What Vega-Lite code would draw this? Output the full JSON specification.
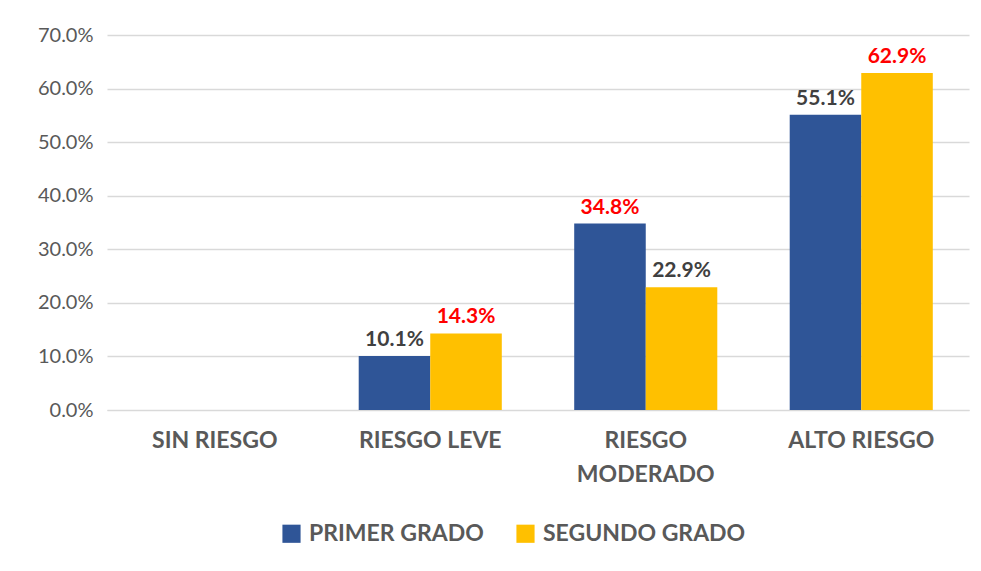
{
  "$schema": "https://vega.github.io/schema/vega-lite/v6.json",
  "width": 862,
  "height": 375,
  "autosize": {"type": "none"},
  "padding": {"left": 107, "top": 35, "right": 12, "bottom": 161},
  "background": "white",
  "data": {
    "values": [
      {"categoria": "SIN RIESGO", "grado": "PRIMER GRADO", "valor": 0},
      {"categoria": "SIN RIESGO", "grado": "SEGUNDO GRADO", "valor": 0},
      {"categoria": "RIESGO LEVE", "grado": "PRIMER GRADO", "valor": 0.101},
      {"categoria": "RIESGO LEVE", "grado": "SEGUNDO GRADO", "valor": 0.143},
      {"categoria": "RIESGO MODERADO", "grado": "PRIMER GRADO", "valor": 0.348},
      {"categoria": "RIESGO MODERADO", "grado": "SEGUNDO GRADO", "valor": 0.229},
      {"categoria": "ALTO RIESGO", "grado": "PRIMER GRADO", "valor": 0.551},
      {"categoria": "ALTO RIESGO", "grado": "SEGUNDO GRADO", "valor": 0.629}
    ]
  },
  "encoding": {
    "x": {
      "field": "categoria",
      "type": "nominal",
      "sort": null,
      "scale": {"paddingInner": 0.336, "paddingOuter": 0.168},
      "axis": {
        "title": null,
        "labelAngle": 0,
        "ticks": false,
        "domain": true,
        "domainColor": "#d9d9d9",
        "labelFont": "Lato",
        "labelFontWeight": "bold",
        "labelFontSize": 23,
        "labelColor": "#595959",
        "labelPadding": 19,
        "labelLineHeight": 34,
        "labelExpr": "datum.value == 'RIESGO MODERADO' ? ['RIESGO', 'MODERADO'] : datum.value"
      }
    },
    "xOffset": {"field": "grado", "type": "nominal", "scale": {"paddingInner": 0}},
    "y": {
      "field": "valor",
      "type": "quantitative",
      "scale": {"domain": [0, 0.7], "nice": false},
      "axis": {
        "title": null,
        "format": ".1%",
        "values": [0, 0.1, 0.2, 0.3, 0.4, 0.5, 0.6, 0.7],
        "domain": false,
        "ticks": false,
        "gridColor": "#d9d9d9",
        "gridWidth": 1.5,
        "labelFont": "Lato",
        "labelFontSize": 20,
        "labelColor": "#595959",
        "labelPadding": 14
      }
    }
  },
  "layer": [
    {
      "mark": {"type": "bar"},
      "encoding": {
        "color": {
          "field": "grado",
          "type": "nominal",
          "scale": {"domain": ["PRIMER GRADO", "SEGUNDO GRADO"], "range": ["#2F5597", "#FFC000"]},
          "legend": {
            "title": null,
            "orient": "none",
            "legendX": 173,
            "legendY": 487,
            "direction": "horizontal",
            "symbolType": "square",
            "symbolSize": 330,
            "symbolStrokeWidth": 0,
            "labelFont": "Lato",
            "labelFontWeight": "bold",
            "labelFontSize": 23,
            "labelColor": "#595959",
            "labelLimit": 0,
            "labelOffset": 6,
            "columnPadding": 30
          }
        }
      }
    },
    {
      "transform": [
        {"joinaggregate": [{"op": "max", "field": "valor", "as": "maxv"}], "groupby": ["categoria"]},
        {"filter": "datum.valor > 0"}
      ],
      "mark": {"type": "text", "baseline": "alphabetic", "dy": -10, "font": "Lato", "fontWeight": "bold", "fontSize": 21},
      "encoding": {
        "text": {"field": "valor", "type": "quantitative", "format": ".1%"},
        "color": {
          "condition": {"test": "datum.valor == datum.maxv", "value": "#FF0000"},
          "value": "#404040"
        }
      }
    }
  ],
  "config": {
    "view": {"stroke": null}
  }
}
